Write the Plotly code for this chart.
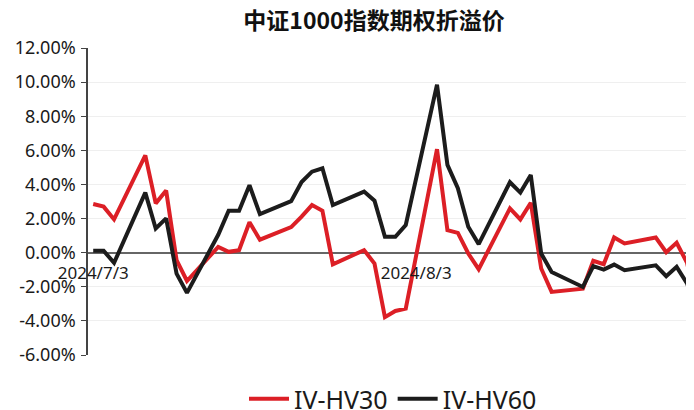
# 中证1000指数期权折溢价 (IV - HV spread)

import plotly.graph_objects as go

# Trading days shown on the chart
dates = ["2024-07-03", "2024-07-04", "2024-07-05", "2024-07-08", "2024-07-09",
         "2024-07-10", "2024-07-11", "2024-07-12", "2024-07-15", "2024-07-16",
         "2024-07-17", "2024-07-18", "2024-07-19", "2024-07-22", "2024-07-23",
         "2024-07-24", "2024-07-25", "2024-07-26", "2024-07-29", "2024-07-30",
         "2024-07-31", "2024-08-01", "2024-08-02", "2024-08-05", "2024-08-06",
         "2024-08-07", "2024-08-08", "2024-08-09", "2024-08-12", "2024-08-13",
         "2024-08-14", "2024-08-15", "2024-08-16", "2024-08-19", "2024-08-20",
         "2024-08-21", "2024-08-22", "2024-08-23", "2024-08-26", "2024-08-27",
         "2024-08-28", "2024-08-29", "2024-08-30"]

# Spread values in percent
iv_hv30 = [2.85, 2.70, 1.95, 5.70, 2.89, 3.64, -0.44, -1.66, 0.34, 0.05,
           0.15, 1.78, 0.76, 1.50, 2.11, 2.79, 2.46, -0.68, 0.15, -0.64,
           -3.78, -3.42, -3.28, 6.07, 1.32, 1.16, -0.05, -0.97, 2.60, 1.95,
           2.93, -0.93, -2.30, -2.11, -0.48, -0.68, 0.89, 0.54, 0.89, 0.03,
           0.58, -0.60, -3.20]

iv_hv60 = [0.11, 0.11, -0.60, 3.52, 1.42, 2.01, -1.23, -2.36, 1.05, 2.46,
           2.46, 3.95, 2.26, 3.02, 4.14, 4.75, 4.95, 2.79, 3.58, 3.05,
           0.93, 0.93, 1.62, 9.85, 5.15, 3.78, 1.52, 0.50, 4.13, 3.52,
           4.56, -0.05, -1.13, -2.01, -0.79, -0.99, -0.70, -1.03, -0.74, -1.38,
           -0.83, -1.80, -3.60]

tick_dates = ["2024-07-03", "2024-08-03"]
tick_text = ["2024/7/3", "2024/8/3"]
y_ticks = [-6, -4, -2, 0, 2, 4, 6, 8, 10, 12]
y_tick_text = ["-6.00%", "-4.00%", "-2.00%", "0.00%", "2.00%", "4.00%",
               "6.00%", "8.00%", "10.00%", "12.00%"]

FONT = "Noto Sans, Open Sans, sans-serif"

# page body has an 8px margin, so the figure is 8px smaller than the window
W, H = 686, 402

fig = go.Figure()

fig.add_trace(go.Scatter(x=dates, y=iv_hv30, mode="lines", name="IV-HV30",
                         line=dict(color="#DC1F26", width=4)))
fig.add_trace(go.Scatter(x=dates, y=iv_hv60, mode="lines", name="IV-HV60",
                         line=dict(color="#1C1C1C", width=4)))

fig.update_layout(
    width=W, height=H,
    margin=dict(l=80, r=0, t=40, b=55, autoexpand=False),
    plot_bgcolor="white", paper_bgcolor="white",
    font=dict(family=FONT, size=16, color="#1a1a1a"),
    title=dict(text="<b>中证1000指数期权折溢价</b>", x=366 / W, xref="container",
               xanchor="center", y=1 - 13 / H, yanchor="middle", yref="container",
               font=dict(family="Noto Sans CJK SC", size=23, color="#111111")),
    legend=dict(orientation="h", x=385 / W, xanchor="center", xref="container",
                y=11 / H, yanchor="middle", yref="container",
                itemwidth=40,
                font=dict(size=25, color="#1a1a1a")),
    showlegend=True,
)

# x axis sits on the 0% line (one third up the plot)
fig.update_xaxes(
    type="date",
    range=["2024-07-02 12:00", "2024-08-29 16:00"],
    tickvals=tick_dates, ticktext=tick_text,
    showgrid=False, showline=False, zeroline=False,
    ticks="outside", ticklen=5, tickcolor="rgba(0,0,0,0)",
    anchor="free", position=1 / 3,
    tickfont=dict(size=17),
)

fig.update_yaxes(
    range=[-6, 12], tickvals=y_ticks, ticktext=y_tick_text,
    showgrid=True, gridcolor="#EFEFEF", gridwidth=1,
    zeroline=True, zerolinecolor="#666666", zerolinewidth=1.5,
    showline=True, linecolor="#444444", linewidth=1.5,
    ticks="outside", ticklen=5, tickcolor="#444444",
    ticklabelstandoff=2,
    tickfont=dict(size=18),
)

fig.write_html("out.html")
